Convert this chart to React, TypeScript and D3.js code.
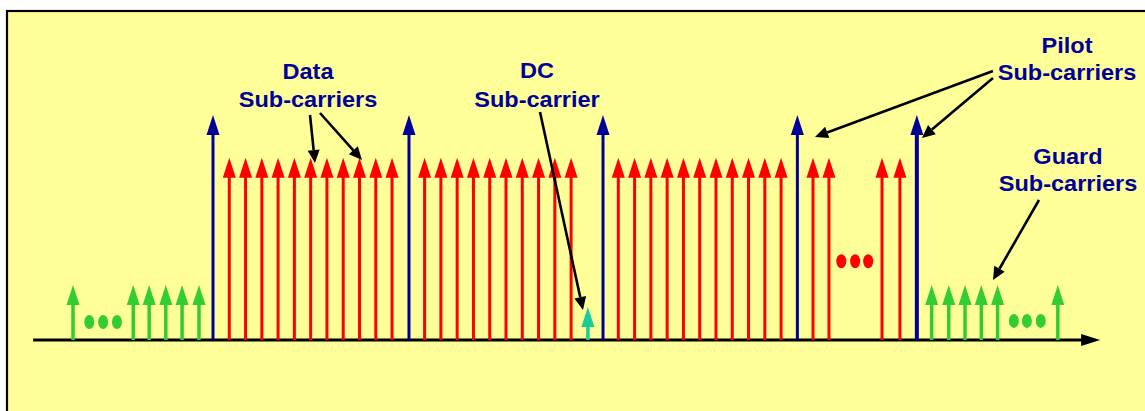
import React from "react";
import * as d3 from "d3";

// ---- data (sub-carrier index positions and relative amplitudes) ----
const guardLeft = [-8.6, -4.9, -3.92, -2.9, -1.9, -0.86];
const guardRight = [44.15, 45.2, 46.2, 47.2, 48.2, 51.9];
const pilotCarriers = [0, 12.04, 23.96, 35.9, 43.24];
const dataCarriers = [
  1, 2, 3, 4, 5, 6, 7, 8, 9, 10, 11,
  13, 14, 15, 16, 17, 18, 19, 20, 21, 22,
  24.9, 25.9, 26.9, 27.9, 28.9, 29.9, 30.9, 31.9, 32.9, 33.9, 34.9,
  36.86, 37.84, 41.1, 42.2,
];
const dcCarriers = [23.03];
const amplitudes = { pilot: 1.0, data: 0.81, guard: 0.245, dc: 0.147 };
const ellipsisLeft = [-7.6, -6.75, -5.9];
const ellipsisData = [38.6, 39.45, 40.25];
const ellipsisRight = [49.2, 50.0, 50.85];
const ellipsisLevels = { left: 0.08, data: 0.35, right: 0.085 };
const axisExtent = [-11.05, 54.5];

const labels = [
  { lines: ["Data", "Sub-carriers"], x: 308, y: [79, 107] },
  { lines: ["DC", "Sub-carrier"], x: 537, y: [78, 107] },
  { lines: ["Pilot", "Sub-carriers"], x: 1067, y: [53, 80] },
  { lines: ["Guard", "Sub-carriers"], x: 1068, y: [164, 191] },
];
const pointers = [
  [310, 115, 315, 163],
  [320, 113, 362, 160],
  [540, 112, 583, 310],
  [993, 71, 815, 137],
  [993, 78, 922, 138],
  [1039, 200, 993, 280],
];

const COLORS = {
  bg: "#FFFF99",
  pilot: "#000099",
  data: "#FF0000",
  guard: "#33CC33",
  dc: "#19CC99",
  text: "#000099",
};

const W = 1145;
const H = 411;
const AXIS_Y = 340;

export default function App() {
  const x = d3.scaleLinear().domain([0, 36]).range([213, 799]);
  const y = d3.scaleLinear().domain([0, 1]).range([AXIS_Y, 115]);

  const head = 20;
  const half = 6.5;

  const carrier = (pos: number, amp: number, color: string, sw: number, key: string) => {
    const cx = x(pos);
    const top = y(amp);
    return (
      <g key={key}>
        <line x1={cx} x2={cx} y1={AXIS_Y} y2={top + head - 1} stroke={color} strokeWidth={sw} />
        <polygon
          points={`${cx},${top} ${cx - half},${top + head} ${cx + half},${top + head}`}
          fill={color}
        />
      </g>
    );
  };

  const pointer = (p: number[], i: number) => {
    const [x1, y1, x2, y2] = p;
    const ang = Math.atan2(y2 - y1, x2 - x1);
    const len = 13;
    const hw = 6;
    const bx = x2 - len * Math.cos(ang);
    const by = y2 - len * Math.sin(ang);
    const nx = -Math.sin(ang);
    const ny = Math.cos(ang);
    return (
      <g key={"p" + i}>
        <line x1={x1} y1={y1} x2={bx} y2={by} stroke="#000" strokeWidth={2.6} />
        <polygon
          points={`${x2},${y2} ${bx + nx * hw},${by + ny * hw} ${bx - nx * hw},${by - ny * hw}`}
          fill="#000"
        />
      </g>
    );
  };

  const dots = (arr: number[], lvl: number, color: string, k: string) =>
    arr.map((p, i) => (
      <ellipse key={k + i} cx={x(p)} cy={y(lvl)} rx={5} ry={7} fill={color} />
    ));

  const ax0 = x(axisExtent[0]);
  const ax1 = x(axisExtent[1]);

  return (
    <svg
      width={W}
      height={H}
      style={{ position: "absolute", left: 0, top: 0, background: "#fff" }}
    >
      <rect x={7} y={11} width={W + 20} height={H + 20} fill={COLORS.bg} stroke="#000" strokeWidth={2.2} />

      {/* axis */}
      <line x1={ax0} x2={ax1 - 16} y1={AXIS_Y} y2={AXIS_Y} stroke="#000" strokeWidth={3} />
      <polygon points={`${ax1},${AXIS_Y} ${ax1 - 19},${AXIS_Y - 6} ${ax1 - 19},${AXIS_Y + 6}`} fill="#000" />

      {guardLeft.map((p, i) => carrier(p, amplitudes.guard, COLORS.guard, 3.5, "gl" + i))}
      {guardRight.map((p, i) => carrier(p, amplitudes.guard, COLORS.guard, 3.5, "gr" + i))}
      {dataCarriers.map((p, i) => carrier(p, amplitudes.data, COLORS.data, 3, "d" + i))}
      {dcCarriers.map((p, i) => carrier(p, amplitudes.dc, COLORS.dc, 3.5, "dc" + i))}
      {pilotCarriers.map((p, i) =>
        carrier(p, amplitudes.pilot, COLORS.pilot, i === pilotCarriers.length - 1 ? 4 : 3, "pl" + i)
      )}

      {dots(ellipsisLeft, ellipsisLevels.left, COLORS.guard, "el")}
      {dots(ellipsisData, ellipsisLevels.data, COLORS.data, "ed")}
      {dots(ellipsisRight, ellipsisLevels.right, COLORS.guard, "er")}

      {pointers.map(pointer)}

      {labels.map((l, i) => (
        <g key={"l" + i} transform={`translate(${l.x},0) scale(1.07,1)`}>
          {l.lines.map((t, j) => (
            <text
              key={j}
              x={0}
              y={l.y[j]}
              textAnchor="middle"
              fontFamily="'Liberation Sans', Arial, sans-serif"
              fontWeight="bold"
              fontSize={22}
              fill={COLORS.text}
            >
              {t}
            </text>
          ))}
        </g>
      ))}
    </svg>
  );
}
